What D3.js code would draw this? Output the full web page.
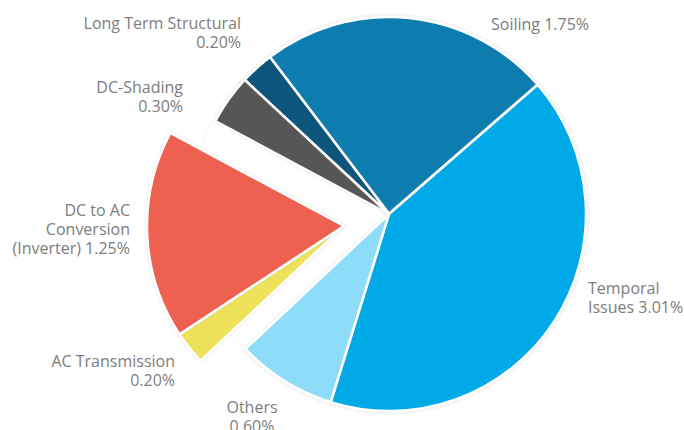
<!DOCTYPE html>
<html>
<head>
<meta charset="utf-8">
<script src="https://cdn.jsdelivr.net/npm/d3@7"></script>
<style>
	body { margin: 0; background: #fff; }
	text { font-family: "Open Sans", sans-serif; font-size: 16px; fill: #7d7d7d; }
</style>
</head>
<body>
<svg id="svg" width="684" height="430"></svg>
<script>
// slice data, in drawing order (clockwise from top-left)
const categories = ['Soiling', 'Temporal Issues', 'Others', 'AC Transmission', 'DC to AC Conversion (Inverter)', 'DC-Shading', 'Long Term Structural'];
const values = [1.75, 3.01, 0.60, 0.20, 1.25, 0.30, 0.20];
const colors = ['#0a7db0', '#00a9e8', '#8ddcfa', '#ede25a', '#ee6150', '#565656', '#07557a'];
const exploded = [false, false, false, true, true, false, false];

// label lines and where they sit
const labelLines = [
	['Soiling 1.75%'],
	['Temporal', 'Issues 3.01%'],
	['Others', '0.60%'],
	['AC Transmission', '0.20%'],
	['DC to AC', 'Conversion', '(Inverter) 1.25%'],
	['DC-Shading', '0.30%'],
	['Long Term Structural', '0.20%'],
];
const labelLayout = [
	{ x: 540, y: 30, anchor: 'middle' },
	{ x: 588, y: 294, anchor: 'start' },
	{ x: 252, y: 413, anchor: 'middle' },
	{ x: 175, y: 367, anchor: 'end' },
	{ x: 130, y: 216, anchor: 'end' },
	{ x: 183, y: 93, anchor: 'end' },
	{ x: 241, y: 29, anchor: 'end' },
];

const cx = 389, cy = 214, radius = 197;
const explodeOffset = [-45, 12];
const lineHeight = 19;

let svg = d3.select('#svg');

let defs = svg.append('defs');
defs.append('filter').attr('id', 'shadow')
	.attr('x', '-10%').attr('y', '-10%').attr('width', '120%').attr('height', '120%')
	.append('feDropShadow')
	.attr('dx', 0).attr('dy', 0).attr('stdDeviation', 1)
	.attr('flood-color', '#999').attr('flood-opacity', 0.35);

let pie = d3.pie().sort(null).value(d => d.value)
	.startAngle(-37.2 * Math.PI / 180)
	.endAngle(-37.2 * Math.PI / 180 + 2 * Math.PI);

let data = categories.map((c, i) => ({ name: c, value: values[i], color: colors[i], exploded: exploded[i] }));
let arcs = pie(data);
let arc = d3.arc().innerRadius(0).outerRadius(radius);

// faint outline of the whole pie
svg.append('circle')
	.attr('cx', cx).attr('cy', cy).attr('r', radius + 3)
	.attr('fill', 'none').attr('stroke', '#e6e6e6').attr('stroke-width', 0.8)
	.attr('stroke-dasharray', '2,2');

let g = svg.append('g').attr('transform', `translate(${cx},${cy})`);

g.selectAll('.slice')
	.data(arcs)
	.enter().append('path')
	.attr('class', 'slice')
	.attr('d', arc)
	.attr('transform', d => d.data.exploded ? `translate(${explodeOffset[0]},${explodeOffset[1]})` : null)
	.attr('fill', d => d.data.color)
	.attr('stroke', '#fff')
	.attr('stroke-width', 2.5)
	.attr('stroke-linejoin', 'round')
	.attr('filter', 'url(#shadow)');

let labels = svg.selectAll('.label')
	.data(labelLines)
	.enter().append('text')
	.attr('class', 'label')
	.attr('text-anchor', (d, i) => labelLayout[i].anchor)
	.attr('transform', (d, i) => `translate(${labelLayout[i].x},${labelLayout[i].y})`);

labels.selectAll('tspan')
	.data(d => d)
	.enter().append('tspan')
	.attr('x', 0)
	.attr('y', (d, i) => i * lineHeight)
	.text(d => d);
</script>
</body>
</html>
